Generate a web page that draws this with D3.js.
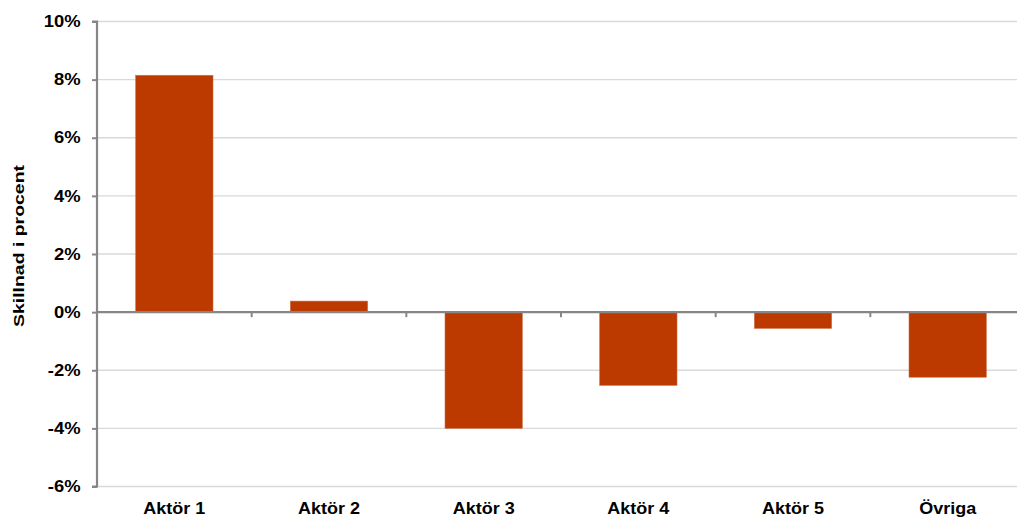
<!DOCTYPE html>
<html>
<head>
<meta charset="utf-8">
<script src="https://cdn.jsdelivr.net/npm/d3@7"></script>
<style>
  html, body { margin: 0; padding: 0; background: #fff; overflow: hidden; }
  svg { display: block; font-family: "Liberation Sans", Arial, sans-serif; }
</style>
</head>
<body>
<svg id="chart" width="1017" height="517"></svg>
<script>
// Difference per market actor, in percent
const categories = ["Aktör 1", "Aktör 2", "Aktör 3", "Aktör 4", "Aktör 5", "Övriga"];
const values = [8.15, 0.38, -4.0, -2.52, -0.56, -2.24];
const yTicks = [-6, -4, -2, 0, 2, 4, 6, 8, 10];
const yTitle = "Skillnad i procent";

(function () {
  const svg = d3.select("#chart");
  const plotLeft = 97, plotRight = 1025, plotTop = 21.5, plotBottom = 486.5;

  const x = d3.scaleBand().domain(categories).range([plotLeft, plotRight]).paddingInner(0.5).paddingOuter(0.25);
  const y = d3.scaleLinear().domain([-6, 10]).range([plotBottom, plotTop]);

  // horizontal gridlines
  svg.append("g")
    .selectAll("line")
    .data(yTicks.filter(t => t !== 0))
    .join("line")
    .attr("x1", plotLeft).attr("x2", plotRight)
    .attr("y1", d => y(d)).attr("y2", d => y(d))
    .attr("stroke", "#d9d9d9").attr("stroke-width", 1.3);

  // bars
  svg.append("g")
    .selectAll("rect")
    .data(values)
    .join("rect")
    .attr("x", (d, i) => x(categories[i]))
    .attr("width", x.bandwidth())
    .attr("y", d => y(Math.max(0, d)))
    .attr("height", d => Math.abs(y(d) - y(0)))
    .attr("fill", "#bc3a00")
    .attr("stroke", "#d0714a").attr("stroke-width", 0.6);

  // y axis
  const yAxis = d3.axisLeft(y).tickValues(yTicks).tickSize(5).tickPadding(11)
    .tickFormat(d => d + "%");
  const gy = svg.append("g").attr("transform", `translate(${plotLeft},0)`).call(yAxis);
  gy.select(".domain").attr("stroke", "#868686").attr("stroke-width", 2.2)
    .attr("d", `M-5,${y(10)}H0V${y(-6)}H-5`);
  gy.selectAll(".tick line").attr("stroke", "#868686").attr("stroke-width", 2);
  gy.selectAll(".tick text")
    .attr("x", null)
    .attr("transform", "translate(-16.5,0) scale(1.15,1)")
    .attr("font-size", 16).attr("font-weight", "bold").attr("fill", "#000")
    .attr("font-family", "'Liberation Sans', Arial, sans-serif");

  // zero line with category separator ticks
  const bounds = d3.range(1, categories.length).map(i => plotLeft + i * x.step());
  svg.append("line")
    .attr("x1", plotLeft).attr("x2", plotRight)
    .attr("y1", y(0)).attr("y2", y(0))
    .attr("stroke", "#868686").attr("stroke-width", 2.2);
  svg.append("g")
    .selectAll("line")
    .data(bounds)
    .join("line")
    .attr("x1", d => d).attr("x2", d => d)
    .attr("y1", y(0)).attr("y2", y(0) + 5)
    .attr("stroke", "#868686").attr("stroke-width", 2);

  // category labels
  svg.append("g")
    .selectAll("text")
    .data(categories)
    .join("text")
    .attr("transform", d => `translate(${x(d) + x.bandwidth() / 2},514.3) scale(1.06,1)`)
    .attr("text-anchor", "middle")
    .attr("font-size", 17).attr("font-weight", "bold").attr("fill", "#000")
    .text(d => d);

  // y axis title
  svg.append("text")
    .attr("transform", "translate(24.3,246) rotate(-90)")
    .attr("x", -81)
    .attr("textLength", 162).attr("lengthAdjust", "spacingAndGlyphs")
    .attr("font-size", 15).attr("font-weight", "bold").attr("fill", "#000")
    .text(yTitle);
})();
</script>
</body>
</html>
